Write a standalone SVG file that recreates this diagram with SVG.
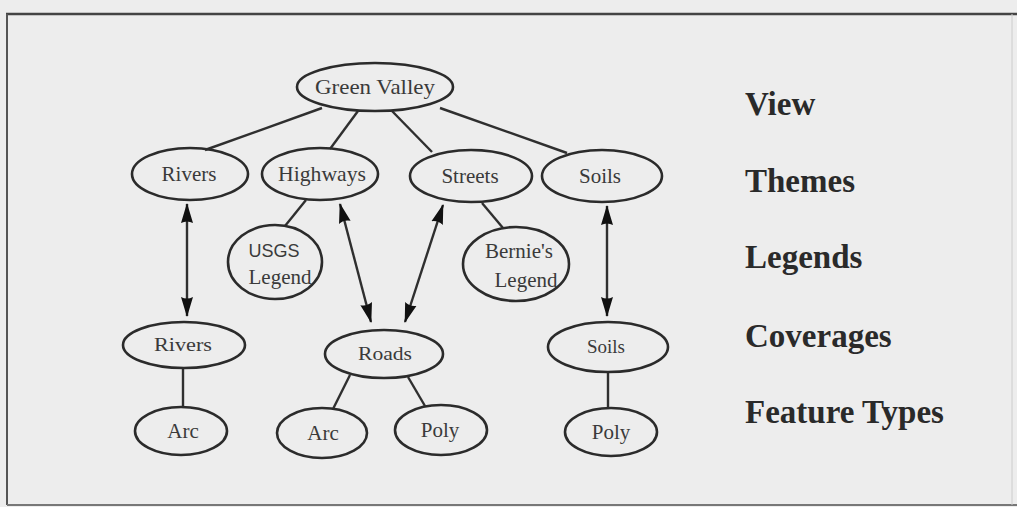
<svg xmlns="http://www.w3.org/2000/svg" width="1017" height="507" viewBox="0 0 1017 507">
<style>
.n ellipse{fill:none;stroke:#2b2b2b;stroke-width:2.6}
.n text{font-family:"Liberation Serif",serif;font-size:21px;fill:#3a3a3a;text-anchor:middle}
.n text.s{font-size:19px}
.n text.u{font-family:"Liberation Sans",sans-serif;font-size:18px}
#connectors line{stroke:#2f2f2f;stroke-width:2.4}
#connectors .a{marker-start:url(#ah);marker-end:url(#ah)}
.lbl{font-family:"Liberation Serif",serif;font-weight:bold;font-size:33px;fill:#2a2a2a}
</style>
<defs>
<marker id="ah" markerUnits="userSpaceOnUse" markerWidth="20" markerHeight="14" refX="19" refY="7" orient="auto-start-reverse" viewBox="0 0 20 14">
<path d="M0,1 L20,7 L0,13 Q3,7 0,1 Z" fill="#111"/>
</marker>
</defs>
<rect x="0" y="0" width="1017" height="507" fill="#ededed"/>
<g id="frame" fill="none" stroke="#555" stroke-width="2">
<line x1="6" y1="14" x2="1017" y2="14" stroke="#444" stroke-width="2.5"/>
<line x1="7" y1="14" x2="7" y2="505"/>
<line x1="7" y1="505" x2="1017" y2="505" stroke="#777"/>
<line x1="1012" y1="14" x2="1012" y2="505" stroke="#ccc" stroke-width="1"/>
</g>
<g id="connectors">
<line x1="322" y1="108" x2="205" y2="150"/>
<line x1="358" y1="111" x2="330" y2="149"/>
<line x1="392" y1="111" x2="432" y2="152"/>
<line x1="440" y1="108" x2="567" y2="153"/>
<line x1="306" y1="200" x2="285" y2="226"/>
<line x1="482" y1="203" x2="503" y2="228"/>
<line class="a" x1="187" y1="204" x2="187" y2="316"/>
<line class="a" x1="340" y1="204" x2="371" y2="322"/>
<line class="a" x1="443" y1="205" x2="405" y2="322"/>
<line class="a" x1="607" y1="206" x2="607" y2="316"/>
<line x1="183" y1="368" x2="183" y2="407"/>
<line x1="350" y1="375" x2="333" y2="409"/>
<line x1="408" y1="377" x2="425" y2="406"/>
<line x1="608" y1="372" x2="608" y2="408"/>
</g>
<g id="green-valley" class="n"><ellipse cx="375" cy="87" rx="78" ry="24"/><text x="375" y="94" textLength="120" lengthAdjust="spacingAndGlyphs">Green Valley</text></g>
<g id="theme-rivers" class="n"><ellipse cx="190" cy="174" rx="58" ry="26"/><text x="189" y="181">Rivers</text></g>
<g id="theme-highways" class="n"><ellipse cx="320" cy="174" rx="58" ry="26"/><text x="322" y="181" textLength="88" lengthAdjust="spacingAndGlyphs">Highways</text></g>
<g id="theme-streets" class="n"><ellipse cx="471" cy="176" rx="61" ry="26"/><text x="470" y="183">Streets</text></g>
<g id="theme-soils" class="n"><ellipse cx="602" cy="176" rx="60" ry="26"/><text x="600" y="183">Soils</text></g>
<g id="legend-usgs" class="n"><ellipse cx="275" cy="262" rx="47" ry="37"/><text class="u" x="274" y="257">USGS</text><text x="280" y="284">Legend</text></g>
<g id="legend-bernie" class="n"><ellipse cx="516" cy="264" rx="53" ry="37"/><text x="519" y="258">Bernie's</text><text x="526" y="287">Legend</text></g>
<g id="cov-rivers" class="n"><ellipse cx="184" cy="345" rx="61" ry="23"/><text class="s" x="183" y="351" textLength="58" lengthAdjust="spacingAndGlyphs">Rivers</text></g>
<g id="cov-roads" class="n"><ellipse cx="384" cy="354" rx="59" ry="24"/><text class="s" x="385" y="360" textLength="54" lengthAdjust="spacingAndGlyphs">Roads</text></g>
<g id="cov-soils" class="n"><ellipse cx="608" cy="347" rx="60" ry="25"/><text class="s" x="606" y="353">Soils</text></g>
<g id="ft-arc1" class="n"><ellipse cx="181" cy="431" rx="46" ry="24"/><text x="183" y="438">Arc</text></g>
<g id="ft-arc2" class="n"><ellipse cx="322" cy="433" rx="45" ry="25"/><text x="323" y="440">Arc</text></g>
<g id="ft-poly1" class="n"><ellipse cx="441" cy="430" rx="46" ry="25"/><text x="440" y="437">Poly</text></g>
<g id="ft-poly2" class="n"><ellipse cx="611" cy="432" rx="46" ry="24"/><text x="611" y="439">Poly</text></g>
<g id="levels">
<text class="lbl" x="745" y="115">View</text>
<text class="lbl" x="745" y="192">Themes</text>
<text class="lbl" x="745" y="268">Legends</text>
<text class="lbl" x="745" y="347">Coverages</text>
<text class="lbl" x="745" y="423">Feature Types</text>
</g>
</svg>
